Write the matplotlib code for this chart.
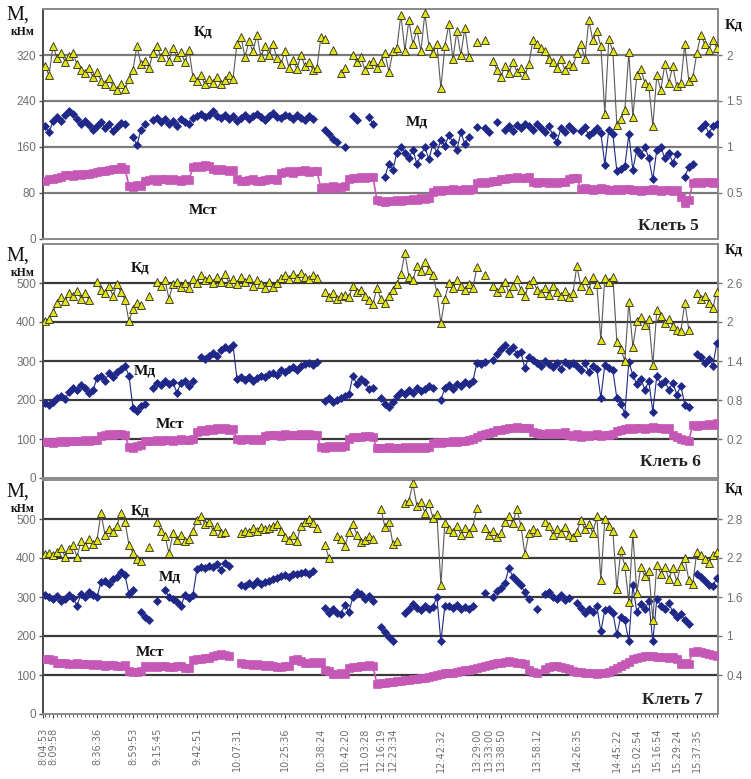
import numpy as np
import matplotlib
matplotlib.use('Agg')
import matplotlib.pyplot as plt

nan = np.nan

# ---------------- data ----------------
time_labels = ['8:04:53', '8:09:58', '8:36:36', '8:59:53', '9:15:45', '9:42:51',
               '10:07:31', '10:25:36', '10:38:24', '10:42:20', '11:03:28', '12:16:19',
               '12:23:34', '12:42:32', '13:29:00', '13:33:00', '13:38:50', '13:58:12',
               '14:26:35', '14:45:22', '15:02:54', '15:16:54', '15:29:24', '15:37:35']
time_idx = [-0.5, 2, 13, 22, 28, 38, 48, 60, 69, 75, 80, 84, 87, 99, 108, 111, 114,
            123, 133, 143, 148, 153, 158, 163]

# Клеть 5
kd5 = [1.88, 1.78, 2.10, 1.97, 2.02, 1.93, 1.99, 2.02, 1.90, 1.84,
       1.80, 1.86, 1.76, 1.82, 1.72, 1.68, 1.75, 1.66, 1.62, 1.68,
       1.63, 1.74, 1.84, 2.10, 1.90, 1.94, 1.86, 2.02, 2.10, 1.98,
       2.05, 1.94, 2.08, 1.98, 2.03, 1.92, 2.06, 1.76, 1.72, 1.78,
       1.68, 1.74, 1.70, 1.76, 1.69, 1.73, 1.78, 1.74, 2.12, 2.20,
       1.98, 2.15, 2.04, 2.22, 1.98, 2.10, 2.00, 2.12, 1.97, 1.90,
       2.04, 1.86, 1.95, 1.85, 2.00, 1.88, 1.92, 1.84, 1.86, 2.20,
       2.18, nan, 2.06, nan, 1.80, 1.86, nan, 2.00, 1.92, 1.98,
       1.84, 1.90, 1.94, 1.86, 1.92, 2.02, 1.82, 2.04, 2.08, 2.44,
       2.05, 2.38, 2.12, 2.28, 2.04, 2.46, 2.10, 2.02, 2.12, 1.64,
       2.10, 2.34, 1.96, 2.26, 2.00, 2.30, 1.98, nan, 2.14, nan,
       2.16, nan, 1.94, 1.84, 1.76, 1.88, 1.80, 1.92, 1.82, 1.86,
       1.78, 1.90, 2.16, 2.12, 2.08, 2.04, 1.96, 1.92, 1.86, 1.96,
       1.84, 1.90, 1.88, 2.02, 2.12, 1.96, 2.38, 2.16, 2.26, 2.10,
       1.36, 2.18, 2.04, 1.24, 1.30, 1.40, 2.03, 1.33, 1.78, 1.85,
       1.70, 1.66, 1.23, 1.78, 1.62, 1.90, 1.70, 1.88, 1.66, 1.70,
       2.12, 1.72, 1.76, 2.02, 2.22, 2.12, 2.06, 2.16, 2.08]
md5 = [197, 185, 205, 212, 205, 215, 222, 218, 208, 200,
       205, 198, 190, 196, 204, 193, 199, 188, 195, 202,
       200, nan, 178, 163, 190, 199, nan, 206, 210, 203,
       208, 200, 205, 196, 209, 203, 200, 210, 214, 218,
       212, 216, 222, 214, 211, 216, 209, 213, 205, 210,
       215, 208, 213, 218, 212, 207, 214, 219, 212, 210,
       216, 213, 208, 215, 211, 206, 214, 209, nan, nan,
       190, 182, 174, 168, nan, 160, nan, 213, 206, nan,
       nan, 212, 200, nan, nan, 108, 130, 120, 150, 160,
       150, 140, 155, 130, 145, 160, 138, 165, 150, 172,
       162, 180, 168, 155, 185, 165, 178, nan, 195, nan,
       192, 186, nan, 203, nan, 190, 196, 188, 198, 192,
       200, 196, 190, 199, 193, 186, 197, 180, 168, 192,
       186, 196, 190, nan, 188, 194, 180, 186, 192, 184,
       129, 190, 182, 118, 122, 126, 182, 120, 155, 145,
       160, 140, 103, 155, 160, 140, 150, 132, 148, nan,
       108, 125, 130, nan, 193, 200, 183, 196, 199]
mst5 = [101, 103, 104, 106, 108, 110, 111, 109, 112, 111,
        113, 112, 114, 116, 118, 117, 120, 122, 121, 124,
        122, 92, 90, 93, 91, 100, 102, 103, 101, 103,
        104, 102, 103, 102, 101, 103, 102, 124, 126, 125,
        128, 126, 121, 120, 122, 119, 118, 120, 103, 101,
        100, 102, 103, 101, 100, 102, 104, 103, 102, 114,
        116, 117, 115, 118, 117, 119, 116, 118, 117, 88,
        90, 89, 91, 89, 90, 92, 104, 106, 105, 107,
        106, 108, 107, 68, 66, 64, 65, 66, 67, 66,
        68, 67, 69, 68, 70, 69, 71, 82, 84, 83,
        85, 84, 86, 85, 84, 86, 85, 87, 96, 98,
        97, 99, 100, 101, 103, 104, 106, 106, 107, 105,
        106, 107, 98, 97, 99, 98, 96, 98, 97, 99,
        98, 104, 106, 105, 86, 88, 87, 85, 86, 88,
        87, 85, 84, 86, 85, 87, 86, 84, 85, 83,
        85, 84, 86, 84, 83, 85, 84, 83, 84, 72,
        62, 68, 96, 98, 97, 99, 98, 97, 99]

# Клеть 6
kd6 = [2.01, 2.05, 2.16, 2.30, 2.38, 2.32, 2.44, 2.40, 2.48, 2.36,
       2.44, 2.34, nan, 2.62, 2.50, 2.44, 2.56, 2.40, 2.58, 2.46,
       2.34, 2.01, 2.20, 2.30, 2.26, nan, 2.40, nan, 2.62, 2.56,
       2.64, 2.36, 2.58, 2.62, 2.54, 2.60, 2.52, 2.66, 2.60, 2.72,
       2.64, 2.68, 2.60, 2.70, 2.62, 2.74, 2.60, 2.66, 2.58, 2.70,
       2.62, 2.68, 2.56, 2.64, 2.58, 2.52, 2.62, 2.54, 2.60, 2.68,
       2.72, 2.66, 2.74, 2.68, 2.76, 2.70, 2.66, 2.72, 2.68, nan,
       2.46, 2.38, 2.44, 2.36, 2.40, 2.42, 2.38, 2.56, 2.46, 2.50,
       2.40, 2.34, 2.28, 2.52, 2.36, 2.30, 2.40, 2.50, 2.58, 2.74,
       3.06, 2.70, 2.64, 2.86, 2.78, 2.92, 2.80, 2.72, 2.46, 1.98,
       2.36, 2.60, 2.52, 2.64, 2.56, 2.50, 2.58, 2.52, 2.84, nan,
       2.72, nan, 2.56, 2.46, 2.52, 2.62, 2.44, 2.56, 2.66, 2.50,
       2.40, 2.58, 2.64, 2.50, 2.44, 2.52, 2.42, 2.56, 2.46, 2.40,
       2.48, 2.38, 2.44, 2.86, 2.56, 2.64, 2.50, 2.70, 2.58, 1.72,
       2.68, 2.62, 2.70, 1.70, 1.58, 1.40, 2.31, 1.62, 2.02, 2.08,
       1.96, 2.04, 1.34, 2.18, 2.10, 1.98, 2.04, 1.94, 1.88, 1.86,
       2.30, 1.88, nan, 2.44, 2.36, 2.40, 2.30, 2.22, 2.46]
md6 = [192, 188, 195, 206, 210, 203, 220, 232, 226, 238,
       230, 218, 225, 256, 262, 250, 268, 258, 272, 280,
       288, 262, 180, 172, 185, 190, nan, 232, 244, 238,
       250, 240, 246, 218, 244, 250, 236, 248, nan, 310,
       306, 314, 320, 312, 328, 336, 330, 342, 255, 258,
       252, 260, 250, 256, 262, 258, 266, 270, 264, 276,
       272, 280, 284, 278, 288, 292, 296, 290, 298, nan,
       198, 204, 196, 200, 205, 210, 215, 262, 240, 255,
       245, 228, 232, nan, 205, 190, 182, 195, 210, 220,
       215, 225, 218, 230, 222, 228, 235, 232, nan, 200,
       230, 238, 228, 242, 236, 245, 240, 248, 295, 292,
       298, nan, 302, 318, 332, 340, 326, 335, 318, 322,
       282, 310, 302, 296, 288, 300, 292, 284, 294, 280,
       298, 290, 296, 286, 278, 294, 272, 288, 280, 205,
       290, 282, 276, 205, 190, 165, 298, 264, 240, 255,
       226, 248, 170, 262, 240, 250, 226, 244, 214, 236,
       188, 182, nan, 318, 310, 296, 304, 288, 345]
mst6 = [92, 93, 91, 92, 94, 93, 95, 94, 96, 95, 97, 96, 98, 97,
        108, 110, 112, 111, 113, 112, 110,
        80, 76, 82, 85,
        94, 96, 95, 97, 96, 98, 97, 96, 98, 99, 97, 98, 100,
        118, 122, 120, 126, 124, 128, 125, 127, 124, 126,
        100, 98, 101, 99, 97, 99, 98,
        108, 110, 109, 111, 108, 112, 110, 109, 111, 113, 110, 112, 111, 110,
        80, 78, 82, 79, 81, 80, 83,
        100, 104, 106, 105, 108, 107, 104,
        76, 78, 77, 79, 76, 78, 77, 79, 78, 80, 78, 79, 78, 80,
        90, 92, 91, 93, 92, 94, 93, 95, 96, 98, 100,
        106, 110, 112, 116, 118, 122, 124, 126, 128,
        128, 130, 127, 129, 128,
        118, 116, 112, 114, 115, 113, 116, 114, 118,
        110, 108, 112, 106, 109, 107, 110, 112, 108, 111, 109, 113,
        120, 124, 126, 128, 125, 127, 129, 126, 128, 130, 127, 129, 126, 128,
        110, 104, 100, 98, 96,
        136, 134, 137, 135, 138, 136, 140]

# Клеть 7
kd7 = [2.26, 2.28, 2.24, 2.30, 2.36, 2.22, 2.34, 2.40, 2.22, 2.46,
       2.38, 2.50, 2.42, 2.48, 2.89, 2.56, 2.64, 2.60, 2.70, 2.90,
       2.76, 2.40, 2.28, 2.18, 2.16, nan, 2.37, nan, 2.76, 2.62,
       2.54, 2.27, 2.58, 2.48, 2.56, 2.46, 2.50, 2.62, 2.78, 2.84,
       2.72, 2.76, 2.62, 2.70, 2.58, 2.60, nan, nan, nan, 2.58,
       2.62, 2.60, 2.66, 2.62, 2.68, 2.64, 2.66, 2.70, 2.72, 2.62,
       2.52, 2.48, 2.56, 2.46, 2.70, 2.76, 2.80, 2.74, 2.66, nan,
       2.40, 2.20, nan, 2.54, 2.50, 2.38, 2.60, 2.72, 2.56, 2.44,
       2.48, 2.54, 2.50, nan, 2.96, 2.68, 2.76, 2.42, 2.46, nan,
       3.04, 3.08, 3.35, 3.00, 3.06, 2.90, 3.04, 2.82, 2.88, 1.79,
       2.74, 2.64, 2.60, 2.70, 2.56, 2.66, 2.58, 2.68, 2.97, nan,
       2.66, 2.56, 2.62, 2.52, 2.58, 2.76, 2.84, 2.74, 2.96, 2.70,
       2.26, 2.58, 2.64, 2.60, nan, 2.76, 2.70, 2.56, 2.64, 2.58,
       2.68, 2.56, 2.52, 2.60, 2.78, 2.64, 2.72, 2.58, 2.84, 1.86,
       2.80, 2.70, 2.62, 1.72, 2.32, 2.08, 1.52, 2.58, 1.66, 2.06,
       1.92, 2.00, 1.25, 2.10, 1.96, 2.06, 1.88, 2.04, 1.84, 2.08,
       2.20, 1.86, 1.80, 2.30, 2.24, 2.18, 2.12, 2.24, 2.30]
md7 = [305, 300, 296, 302, 290, 294, 304, 298, 278, 308,
       300, 312, 306, 300, 338, 342, 334, 345, 352, 364,
       356, 308, 318, nan, 262, 250, 240, nan, 290, nan,
       318, 300, 296, 288, 278, 304, 298, 306, 372, 378,
       374, 380, 376, 384, 370, 386, 380, nan, nan, 332,
       328, 336, 330, 340, 334, 338, 342, 346, 350, 354,
       356, 352, 360, 358, 362, 365, 360, 366, nan, nan,
       272, 258, 268, 260, 256, 280, 262, 300, 312, 308,
       296, 302, 290, nan, 222, 210, 198, 188, nan, nan,
       260, 270, 282, 272, 266, 276, 268, 274, 300, 186,
       278, 276, 272, 280, 270, 274, 268, 276, nan, nan,
       310, nan, 300, 316, 322, 336, 374, 352, 340, 330,
       312, 296, nan, 268, nan, 308, 312, 300, 296, 304,
       292, 298, nan, 284, 272, 258, 268, 262, 276, 212,
       266, 270, 260, 204, 250, 240, 186, 330, 262, 282,
       268, 290, 186, 296, 278, 270, 284, 262, 248, 256,
       240, 232, nan, 360, 352, 340, 332, 328, 348]
mst7 = [141, 140, 138,
        132, 130, 131, 129, 128, 130, 127, 129, 128,
        126, 127, 125, 124, 126, 125, 123, 124, 125,
        110, 108, 107, 109,
        122, 120, 123, 121, 124, 122, 120, 121, 123, 122, 118, 117,
        138, 140, 141, 143, 144,
        150, 152, 154, 151, 150,
        nan, nan,
        130, 128, 127, 126, 128, 125, 124, 126,
        122, 120, 121, 123, 124,
        138, 140, 136,
        132, 131, 133, 130, 134,
        112, 110,
        103, 102, 104, 103,
        118, 120, 121, 123, 124, 126, 122,
        78, 79, 80, 81, 82, 84, 85, 86, 88, 89, 90, 92, 93, 94,
        98, 100, 102, 104, 105, 106, 108, 110, 112, 114, 116,
        118, 120, 122, 125, 128, 130, 132, 134, 135, 133, 132, 130, 128,
        112, 108, 106,
        nan,
        116, 120, 122, 124, 121, 118, 116,
        110, 108, 107, 106, 104, 105, 103, 104, 106, 108,
        112, 118, 124, 128, 134, 140, 144, 146, 150, 148,
        148, 146, 147, 145, 144, 146, 142,
        128, 130, 129,
        160, 162, 158, 156, 154, 152, 150]

lens = [len(a) for a in (kd5, md5, mst5, kd6, md6, mst6, kd7, md7, mst7)]
if len(set(lens)) != 1:
    raise ValueError(str(lens))

# ---------------- drawing ----------------
W_PX, H_PX = 751, 779
fig = plt.figure(figsize=(W_PX / 100, H_PX / 100), dpi=100)
fig.patch.set_facecolor('white')

def fx(px):
    return px / W_PX

def fy(py):
    return 1 - py / H_PX

LEFT, RIGHT = 43, 718
C_KD, C_MD, C_MST = '#e2e21c', '#1f2888', '#c558b6'
TICK_C = '#707070'
SANS = 'Liberation Sans'
SERIF = 'Liberation Serif'

panels = [
    dict(kd=kd5, md=md5, mst=mst5, top=9.3, bot=238.5, mlim=(0, 400),
         mticks=[0, 80, 160, 240, 320], klim=(0, 2.5), kticks=[0.5, 1, 1.5, 2],
         kticklabels=['0.5', '1', '1.5', '2'], grid='#7a7a7a', name='Клеть 5',
         lab=[('Кд', 203, 32), ('Мд', 417, 122), ('Мст', 203, 210)], name_xy=(668, 226),
         mlab=(18, 15), klab=(734, 25)),
    dict(kd=kd6, md=md6, mst=mst6, top=244, bot=478, mlim=(0, 600),
         mticks=[0, 100, 200, 300, 400, 500], klim=(-0.4, 3.2), kticks=[0.2, 0.8, 1.4, 2, 2.6],
         kticklabels=['0.2', '0.8', '1.4', '2', '2.6'], grid='#3a3a3a', name='Клеть 6',
         lab=[('Кд', 140, 268), ('Мд', 145, 371), ('Мст', 170, 425)], name_xy=(670, 462),
         mlab=(18, 256), klab=(734, 250)),
    dict(kd=kd7, md=md7, mst=mst7, top=480, bot=714, mlim=(0, 600),
         mticks=[0, 100, 200, 300, 400, 500], klim=(-0.2, 3.4), kticks=[0.4, 1, 1.6, 2.2, 2.8],
         kticklabels=['0.4', '1', '1.6', '2.2', '2.8'], grid='#3a3a3a', name='Клеть 7',
         lab=[('Кд', 140, 511), ('Мд', 170, 577), ('Мст', 150, 653)], name_xy=(672, 700),
         mlab=(18, 492), klab=(734, 489)),
]

n = lens[0]
x = np.arange(n)

for k, p in enumerate(panels):
    rect = [fx(LEFT), fy(p['bot']), fx(RIGHT - LEFT), (p['bot'] - p['top']) / H_PX]
    ax = fig.add_axes(rect)
    ax.set_xlim(-0.5, 168.3)
    ax.set_ylim(*p['mlim'])
    ax.set_yticks(p['mticks'])
    ax.set_yticklabels([str(t) for t in p['mticks']], fontsize=8.5, color=TICK_C, family=SANS)
    ax.tick_params(axis='y', length=3, width=1, color='#555', pad=2)
    for t in p['mticks'][1:]:
        ax.axhline(t, color=p['grid'], lw=1.6, zorder=1)
    ax.plot(x, p['mst'], color=C_MST, lw=1.2, marker='s', ms=5.2, mec=C_MST, mew=0.5, zorder=3)
    ax.plot(x, p['md'], color=C_MD, lw=0.8, marker='D', ms=4.3, mec=C_MD, mew=0.5, zorder=4)
    for sp in ax.spines.values():
        sp.set_color('#8a8a8a')
        sp.set_linewidth(1.4)
    ax.spines['left'].set_color('#4a4a4a')

    if k < 2:
        ax.set_xticks([])
    else:
        ax.set_xticks(time_idx)
        ax.set_xticklabels(time_labels, rotation=90, fontsize=7.0, color=TICK_C,
                           family='DejaVu Sans')
        ax.set_xticks(x, minor=True)
        ax.tick_params(axis='x', which='major', length=3, color='#444', pad=7)
        ax.tick_params(axis='x', which='minor', length=2, width=0.6, color='#444')

    ax2 = ax.twinx()
    ax2.set_ylim(*p['klim'])
    ax2.set_yticks(p['kticks'])
    ax2.set_yticklabels(p['kticklabels'], fontsize=8.5, color=TICK_C, family=SANS)
    ax2.tick_params(axis='y', length=3, width=1, color='#777', pad=3)
    ax2.plot(x, p['kd'], color='#5a5a5a', lw=0.8, marker='^', ms=6.0,
             mfc=C_KD, mec='#2a2a1a', mew=0.6, zorder=5)
    for sp in ax2.spines.values():
        sp.set_visible(False)
    ax2.set_xlim(-0.5, 168.3)

    # labels
    for txt, px, py in p['lab']:
        fig.text(fx(px), fy(py), txt, ha='center', va='center', fontsize=11,
                 family=SERIF, weight='bold', color='#111')
    fig.text(fx(p['name_xy'][0]), fy(p['name_xy'][1]), p['name'], ha='center', va='center',
             fontsize=12.5, family=SERIF, weight='bold', color='#222')
    mx, my = p['mlab']
    fig.text(fx(mx), fy(my), 'M,', ha='center', va='center', fontsize=14.5,
             family=SERIF, color='#111')
    fig.text(fx(mx + 5), fy(my + 17), 'кНм', ha='center', va='center', fontsize=8.5,
             family=SERIF, weight='bold', color='#111')
    kx, ky = p['klab']
    fig.text(fx(kx), fy(ky), 'Кд', ha='center', va='center', fontsize=10.5,
             family=SERIF, weight='bold', color='#111')

fig.savefig('out.png', dpi=100, facecolor='white')
